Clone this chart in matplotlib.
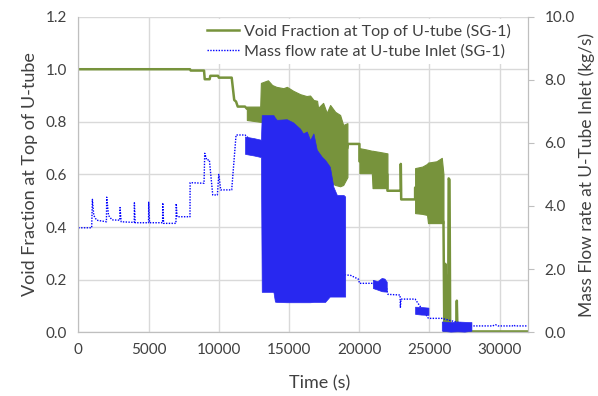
import numpy as np
import matplotlib
matplotlib.use('Agg')
import matplotlib.pyplot as plt

plt.rcParams['font.family'] = ['Lato', 'DejaVu Sans']

# ---------------- void fraction at top of U-tube (left axis) ----------------
vf_t = [0, 7950, 8000, 8950, 9000, 9350, 9400, 9950, 10000, 10920, 11100, 11230,
        11350, 11870, 12000, 13000, 19160, 19200, 20015, 20015, 22010, 22010, 22960,
        22960, 22990, 23980, 23980, 26000, 26060, 26100, 26130, 26200, 26250, 26330,
        26370, 26430, 26480, 26900, 26950, 27000, 32000]
vf_v = [1.0, 1.0, 0.995, 0.995, 0.962, 0.962, 0.975, 0.975, 0.968, 0.968, 0.883, 0.877,
        0.858, 0.858, 0.85, 0.83, 0.70, 0.716, 0.716, 0.65, 0.60, 0.538, 0.538,
        0.64, 0.505, 0.505, 0.55, 0.42, 0.0, 0.0, 0.26, 0.18, 0.0, 0.0,
        0.585, 0.58, 0.0, 0.0, 0.12, 0.003, 0.003]

# oscillating stretches: upper / lower envelope
vf_band1_t = [12000, 12950, 13000, 13500, 13800, 14100, 14600, 14850, 15300, 15800, 16250,
              16500, 16750, 17000, 17070, 17430, 17690, 17930, 18290, 18640, 18860, 19160]
vf_band1_hi = [0.858, 0.858, 0.948, 0.958, 0.94, 0.933, 0.928, 0.933, 0.918, 0.905, 0.898,
               0.90, 0.883, 0.88, 0.853, 0.872, 0.834, 0.864, 0.838, 0.826, 0.788, 0.795]
vf_band1_lo = [0.807, 0.80, 0.80, 0.79, 0.78, 0.77, 0.75, 0.74, 0.73, 0.71, 0.70,
               0.69, 0.66, 0.64, 0.63, 0.61, 0.59, 0.57, 0.56, 0.555, 0.56, 0.59]

vf_band2_t = [20015, 20500, 20900, 20950, 21500, 22010]
vf_band2_hi = [0.70, 0.695, 0.69, 0.69, 0.685, 0.68]
vf_band2_lo = [0.605, 0.605, 0.605, 0.548, 0.548, 0.548]

vf_band3_t = [23980, 24500, 24830, 24900, 25500, 25880, 26000]
vf_band3_hi = [0.624, 0.63, 0.64, 0.645, 0.65, 0.663, 0.60]
vf_band3_lo = [0.453, 0.450, 0.446, 0.415, 0.415, 0.415, 0.415]

# ---------------- mass flow rate at U-tube inlet (right axis) ----------------
mf_t = [0, 950, 1000, 1100, 1300, 2000, 2020, 2150, 2400, 2950, 2970, 3050, 3980, 3990,
        4050, 5000, 5010, 5070, 6000, 6010, 6070, 6950, 6970, 7030, 7950, 7960, 8950,
        9000, 9140, 9330, 9570, 9900, 10000, 10140, 10920, 11230, 11870, 13000,
        19000, 19400, 19950, 20020, 20900, 21960, 22010, 22050, 22910, 22930, 22980,
        23980, 24930, 25880, 28000, 29500, 29700, 29900, 30900, 31000, 31100, 32000]
mf_v = [3.31, 3.31, 4.21, 3.7, 3.55, 3.5, 4.28, 3.7, 3.56, 3.55, 3.95, 3.5, 3.48, 4.1,
        3.47, 3.47, 4.12, 3.47, 3.47, 4.1, 3.45, 3.45, 4.08, 3.66, 3.66, 4.74, 4.72,
        5.67, 5.46, 5.46, 4.35, 4.35, 5.0, 4.51, 4.51, 6.25, 6.25, 5.8,
        1.82, 1.80, 1.68, 1.55, 1.55, 1.40, 1.25, 1.20, 1.18, 0.79, 1.05,
        1.05, 0.44, 0.44, 0.20, 0.20, 0.24, 0.20, 0.20, 0.23, 0.20, 0.20]

mf_band1_t = [11870, 12500, 13000, 13060, 13890, 14000, 14130, 14840, 15290, 15790, 16000,
              16270, 16500, 16740, 16980, 17340, 17570, 17900, 17930, 18160, 18410, 18880, 19000]
mf_band1_hi = [6.2, 6.15, 6.1, 6.88, 6.88, 6.8, 6.73, 6.75, 6.65, 6.45, 6.3,
               6.36, 6.09, 6.3, 5.78, 5.56, 5.46, 5.25, 5.2, 4.61, 4.35, 4.35, 4.3]
mf_band1_lo = [5.65, 5.6, 5.55, 1.28, 1.28, 0.97, 0.96, 0.95, 0.95, 0.95, 0.95,
               0.95, 0.95, 0.96, 0.96, 0.96, 0.96, 1.13, 1.13, 1.13, 1.13, 1.13, 1.13]

mf_band2_t = [20970, 21300, 21600, 21800, 21960]
mf_band2_hi = [1.66, 1.62, 1.72, 1.70, 1.60]
mf_band2_lo = [1.40, 1.35, 1.30, 1.29, 1.29]

mf_band3_t = [23980, 24400, 24930]
mf_band3_hi = [0.81, 0.80, 0.78]
mf_band3_lo = [0.58, 0.56, 0.55]

mf_band4_t = [25880, 26500, 27000, 27500, 27990]
mf_band4_hi = [0.34, 0.32, 0.34, 0.33, 0.32]
mf_band4_lo = [0.05, 0.02, 0.03, 0.02, 0.05]

green = '#77933C'
blue = '#0000FF'
band_blue = '#2828F0'
txt = '#404040'

fig = plt.figure(figsize=(5.98, 3.96), dpi=100)
ax1 = fig.add_axes([0.131, 0.161, 0.7515, 0.797])
ax2 = ax1.twinx()

ax1.plot(vf_t, vf_v, color=green, lw=1.8, zorder=2, label='Void Fraction at Top of U-tube (SG-1)')
for bt, bh, bl in [(vf_band1_t, vf_band1_hi, vf_band1_lo),
                   (vf_band2_t, vf_band2_hi, vf_band2_lo),
                   (vf_band3_t, vf_band3_hi, vf_band3_lo)]:
    ax1.fill_between(bt, bl, bh, color=green, lw=0.8, zorder=3)

ax2.plot(mf_t, mf_v, color=blue, lw=1.0, ls=(0, (1, 1)), zorder=2,
         label='Mass flow rate at U-tube Inlet (SG-1)')
for bt, bh, bl in [(mf_band1_t, mf_band1_hi, mf_band1_lo),
                   (mf_band2_t, mf_band2_hi, mf_band2_lo),
                   (mf_band3_t, mf_band3_hi, mf_band3_lo),
                   (mf_band4_t, mf_band4_hi, mf_band4_lo)]:
    ax2.fill_between(bt, bl, bh, color=band_blue, lw=0.5, zorder=3)

ax1.set_xlim(0, 32000)
ax1.set_ylim(0, 1.2)
ax2.set_ylim(0, 10)
ax1.set_xticks(np.arange(0, 30001, 5000))
ax1.set_yticks(np.arange(0, 1.21, 0.2))
ax2.set_yticks(np.arange(0, 10.1, 2))
ax1.set_yticklabels(['%.1f' % v for v in np.arange(0, 1.21, 0.2)])
ax2.set_yticklabels(['%.1f' % v for v in np.arange(0, 10.1, 2)])

ax1.grid(True, color='#D9D9D9', lw=1)
ax1.set_axisbelow(True)
for ax in (ax1, ax2):
    for s in ax.spines.values():
        s.set_color('#BFBFBF')
    ax.spines['top'].set_visible(False)
ax1.spines['left'].set_color('#D9D9D9')

ax1.tick_params(axis='both', length=0, labelsize=11, labelcolor=txt, pad=8)
ax2.tick_params(axis='y', length=4, color='#BFBFBF', labelsize=11, labelcolor=txt, pad=8)

ax1.set_xlabel('Time (s)', fontsize=13, color=txt)
ax1.xaxis.set_label_coords(0.538, -0.135)
ax1.set_ylabel('Void Fraction at Top of U-tube', fontsize=13, color=txt, labelpad=6)
ax2.set_ylabel('Mass Flow rate at U-Tube Inlet (kg/s)', fontsize=12.5, color=txt, labelpad=3)

h1, l1 = ax1.get_legend_handles_labels()
h2, l2 = ax2.get_legend_handles_labels()
leg = ax2.legend(h1 + h2, l1 + l2, loc='upper right', bbox_to_anchor=(516 / 598, 1 - 19 / 396),
                 bbox_transform=fig.transFigure, fontsize=11.6, frameon=True, facecolor='white',
                 edgecolor='none', framealpha=1, fancybox=False, handlelength=2.0,
                 handletextpad=0.3, labelspacing=0.35, borderpad=0.3, borderaxespad=0)
for t in leg.get_texts():
    t.set_color(txt)

fig.savefig('out.png', dpi=100)
